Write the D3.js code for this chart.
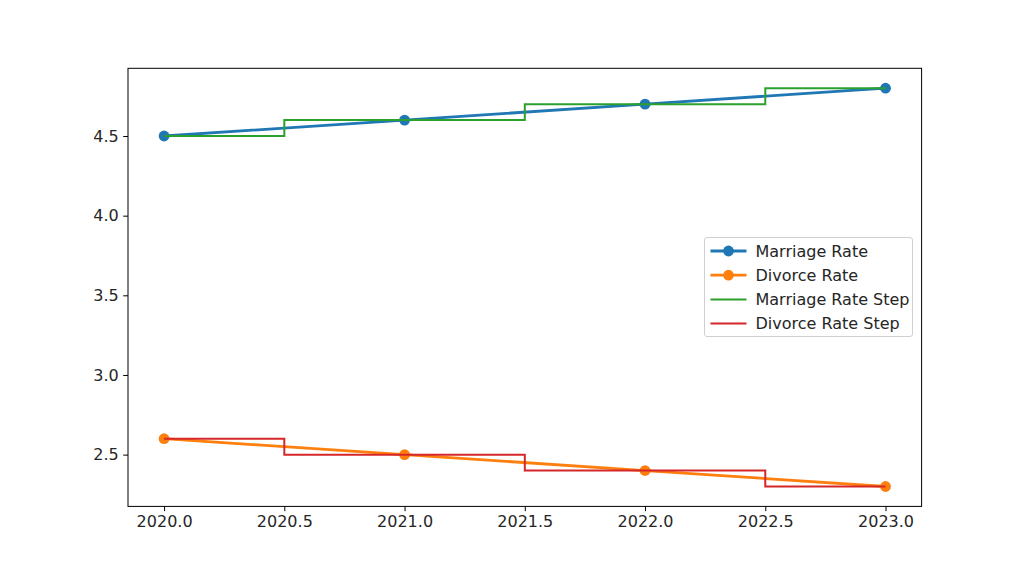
<!DOCTYPE html>
<html>
<head>
<meta charset="utf-8">
<script src="https://cdn.jsdelivr.net/npm/d3@7"></script>
<style>
  body { margin: 0; background: #fff; }
  svg text { font-family: "DejaVu Sans", sans-serif; fill: #262626; }
</style>
</head>
<body>
<div id="chart"></div>
<script>
// chart data
var years = [2020, 2021, 2022, 2023];
var marriageRate = [4.5, 4.6, 4.7, 4.8];
var divorceRate = [2.6, 2.5, 2.4, 2.3];
var xTicks = [2020.0, 2020.5, 2021.0, 2021.5, 2022.0, 2022.5, 2023.0];
var yTicks = [2.5, 3.0, 3.5, 4.0, 4.5];
var seriesNames = ["Marriage Rate", "Divorce Rate", "Marriage Rate Step", "Divorce Rate Step"];

var colors = {
    blue: "#1f77b4",
    orange: "#ff7f0e",
    green: "#2ca02c",
    red: "#d62728"
};

function drawChart(selector) {
    var width = 1024, height = 569;
    var margin = {left: 128, right: 102.4, top: 68.3, bottom: 62.6};

    d3.select(selector).html(null);

    var svg = d3.select(selector)
        .append("svg")
        .attr("width", width)
        .attr("height", height);

    // matplotlib-ish auto margins (5% of data range)
    var x = d3.scaleLinear()
        .domain([2020 - 0.15, 2023 + 0.15])
        .range([margin.left, width - margin.right]);
    var y = d3.scaleLinear()
        .domain([2.3 - 0.125, 4.8 + 0.125])
        .range([height - margin.bottom, margin.top]);

    var plot = svg.append("g");

    var line = d3.line()
        .x(function(d) { return x(d[0]); })
        .y(function(d) { return y(d[1]); });

    var stepLine = d3.line()
        .curve(d3.curveStep)
        .x(function(d) { return x(d[0]); })
        .y(function(d) { return y(d[1]); });

    var marriage = years.map(function(yr, i) { return [yr, marriageRate[i]]; });
    var divorce = years.map(function(yr, i) { return [yr, divorceRate[i]]; });

    // lines with markers
    [[marriage, colors.blue], [divorce, colors.orange]].forEach(function(s) {
        plot.append("path")
            .attr("d", line(s[0]))
            .attr("fill", "none")
            .attr("stroke", s[1])
            .attr("stroke-width", 2.8);
        plot.selectAll(null)
            .data(s[0]).enter().append("circle")
            .attr("cx", function(d) { return x(d[0]); })
            .attr("cy", function(d) { return y(d[1]); })
            .attr("r", 5.4)
            .attr("fill", s[1]);
    });

    // step lines (mid)
    [[marriage, colors.green], [divorce, colors.red]].forEach(function(s) {
        plot.append("path")
            .attr("d", stepLine(s[0]))
            .attr("fill", "none")
            .attr("stroke", s[1])
            .attr("stroke-width", 2);
    });

    // axes
    var xAxis = svg.append("g")
        .attr("transform", "translate(0," + (height - margin.bottom) + ")")
        .call(d3.axisBottom(x).tickValues(xTicks).tickFormat(d3.format(".1f")).tickSizeOuter(0).tickSize(4.8).tickPadding(4.5));
    var yAxis = svg.append("g")
        .attr("transform", "translate(" + margin.left + ",0)")
        .call(d3.axisLeft(y).tickValues(yTicks).tickFormat(d3.format(".1f")).tickSizeOuter(0).tickSize(4.8).tickPadding(4.5));

    [xAxis, yAxis].forEach(function(a) {
        a.select(".domain").remove();
        a.selectAll("line").attr("stroke", "#000").attr("stroke-width", 1);
        a.selectAll("text").style("font-size", "16px").attr("fill", "#262626");
    });

    // frame
    svg.append("rect")
        .attr("x", margin.left)
        .attr("y", margin.top)
        .attr("width", width - margin.left - margin.right)
        .attr("height", height - margin.top - margin.bottom)
        .attr("fill", "none")
        .attr("stroke", "#000")
        .attr("stroke-width", 1);

    // legend
    var legend = svg.append("g").attr("transform", "translate(704.5,237.5)");
    legend.append("rect")
        .attr("width", 208)
        .attr("height", 99)
        .attr("rx", 2.5)
        .attr("fill", "#fff")
        .attr("fill-opacity", 0.8)
        .attr("stroke", "#d0d0d0")
        .attr("stroke-width", 1);

    var legendColors = [colors.blue, colors.orange, colors.green, colors.red];
    var item = legend.selectAll(".item")
        .data(seriesNames).enter().append("g")
        .attr("transform", function(d, i) { return "translate(0," + (13.5 + i * 24.2) + ")"; });

    item.append("line")
        .attr("x1", 6).attr("x2", 42)
        .attr("stroke", function(d, i) { return legendColors[i]; })
        .attr("stroke-width", function(d, i) { return i < 2 ? 2.8 : 2; });
    item.filter(function(d, i) { return i < 2; })
        .append("circle")
        .attr("cx", 24).attr("r", 5.4)
        .attr("fill", function(d, i) { return legendColors[i]; });
    item.append("text")
        .attr("x", 51)
        .attr("dy", "0.35em")
        .style("font-size", "16px")
        .text(function(d) { return d; });
}

drawChart("#chart");
</script>
</body>
</html>
